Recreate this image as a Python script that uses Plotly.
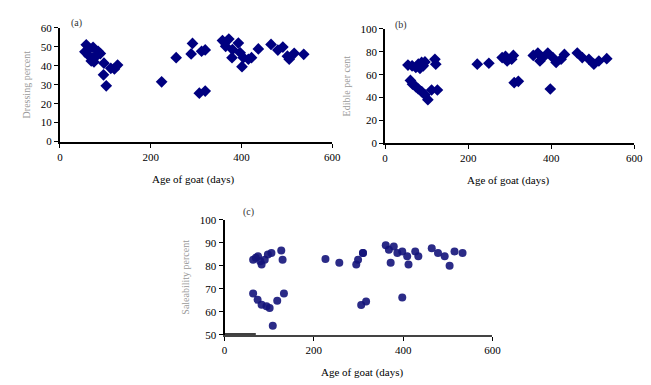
import plotly.graph_objects as go

# Panel (a): dressing percent vs age
a_age = [58, 55, 65, 73, 84, 89, 63, 73, 80, 75, 69, 97, 96, 102, 112, 120, 127,
         224, 256, 292, 289, 312, 320, 307, 320, 358, 372, 365, 380, 393, 379, 397,
         404, 415, 401, 422, 437, 465, 480, 491, 501, 516, 505, 537]
a_val = [51, 47.3, 48.8, 49.7, 47.6, 46.4, 45.4, 44.2, 45, 42, 42.5, 41.3, 35.2, 29.4,
         38.6, 38.3, 40.3, 31.5, 44.2, 51.7, 46.2, 47.6, 48.3, 25.5, 26.6, 53.2, 54,
         50.2, 48.5, 51.9, 44.2, 46.8, 44.2, 43.4, 39.5, 44.2, 48.8, 51.2, 48.2, 49.8,
         45, 46.5, 43.4, 46]

# Panel (b)
b_age = [55, 65, 74, 80, 88, 96, 84, 92, 120, 122, 61, 66, 74, 80, 88, 96, 103, 112,
         126, 222, 250, 282, 290, 294, 309, 305, 311, 321, 357, 368, 373, 380, 392,
         404, 412, 424, 432, 398, 463, 475, 491, 503, 515, 534]
b_val = [68.4, 67.8, 66.4, 69.2, 70.7, 71.2, 65.6, 67.8, 73.5, 69.2, 55, 51.7, 49.5,
         47.5, 45.2, 42.4, 38.1, 46.6, 46.6, 69.2, 70, 75, 76, 72, 76.9, 73.5, 53,
         54.2, 76.9, 79, 72, 75, 79, 75, 70.7, 73.5, 77.7, 47.5, 79, 75, 73.5, 69.2,
         72, 74]

# Panel (c)
c_age = [64, 75, 83, 90, 97, 105, 70, 80, 127, 130, 64, 74, 83, 94, 101, 118, 133,
         108, 226, 257, 295, 310, 299, 310, 317, 306, 361, 368, 379, 387, 372, 398,
         409, 412, 427, 434, 398, 464, 478, 493, 504, 515, 533]
c_val = [82.7, 84.2, 80.6, 82.7, 84.9, 85.6, 83.5, 82, 86.7, 82.7, 68, 65.2, 63.1,
         62.4, 61.6, 64.8, 68, 53.9, 83, 81.3, 80.6, 85.6, 82.7, 85.6, 64.5, 63, 89,
         87, 88.4, 85.6, 81.3, 86.3, 84.2, 80.6, 86.3, 84.2, 66.2, 87.7, 85.6, 84.2,
         80, 86.3, 85.6]

x_ticks = [0, 200, 400, 600]
a_ticks = [0, 10, 20, 30, 40, 50, 60]
b_ticks = [0, 20, 40, 60, 80, 100]
c_ticks = [50, 60, 70, 80, 90, 100]

x_title = "Age of goat (days)"
a_title = "Dressing percent"
b_title = "Edible per cent"
c_title = "Saleability percent"

FONT = "Liberation Serif"
NAVY = "#000080"

fig = go.Figure()
fig.add_trace(go.Scatter(x=a_age, y=a_val, mode="markers", xaxis="x", yaxis="y",
                         marker=dict(symbol="diamond", size=9, color=NAVY)))
fig.add_trace(go.Scatter(x=b_age, y=b_val, mode="markers", xaxis="x2", yaxis="y2",
                         marker=dict(symbol="diamond", size=9, color=NAVY)))
fig.add_trace(go.Scatter(x=c_age, y=c_val, mode="markers", xaxis="x3", yaxis="y3",
                         marker=dict(symbol="circle", size=8, color="#14147a",
                                     opacity=0.9)))

def xax(domain, anchor, linecolor="black"):
    return dict(domain=domain, anchor=anchor, range=[0, 600], tickvals=x_ticks,
                showgrid=False, zeroline=False, showline=True, linecolor=linecolor,
                linewidth=2, ticks="outside", ticklen=4, tickcolor="black",
                tickfont=dict(family=FONT, size=11, color="black"))

def yax(domain, anchor, rng, tv, title):
    return dict(domain=domain, anchor=anchor, range=rng, tickvals=tv,
                showgrid=False, zeroline=False, showline=True, linecolor="black",
                linewidth=2, ticks="outside", ticklen=4, tickcolor="black",
                tickfont=dict(family=FONT, size=11, color="black"),
                title=dict(text=title, font=dict(family=FONT, size=10, color="#9a9a9a"),
                           standoff=8))

fig.update_layout(
    width=651, height=385, margin=dict(l=0, r=0, t=0, b=0),
    paper_bgcolor="white", plot_bgcolor="white", showlegend=False,
    xaxis=xax([0.0891, 0.5154], "y"),
    yaxis=yax([0.6364, 0.9418], "x", [0, 60], a_ticks, a_title),
    xaxis2=xax([0.598, 0.9877], "y2"),
    yaxis2=yax([0.632, 0.9384], "x2", [0, 100], b_ticks, b_title),
    xaxis3=xax([0.3467, 0.766], "y3", linecolor="#444444"),
    yaxis3=yax([0.1187, 0.4265], "x3", [50, 100], c_ticks, c_title),
)

fig.add_shape(type="line", xref="x3", yref="y3", x0=0, x1=70, y0=50, y1=50,
              line=dict(color="black", width=3))

# x-axis titles
for x, y in [(194 / 651, 1 - 179 / 385), (515 / 651, 1 - 180 / 385), (366 / 651, 1 - 378 / 385)]:
    fig.add_annotation(text=x_title, xref="paper", yref="paper", x=x, y=y,
                       xanchor="center", yanchor="middle", showarrow=False,
                       font=dict(family=FONT, size=11, color="black"))

# panel labels
for txt, x, y in [("(a)", 75 / 651, 1 - 18 / 385), ("(b)", 405 / 651, 1 - 20 / 385),
                  ("(c)", 250 / 651, 1 - 213 / 385)]:
    fig.add_annotation(text=txt, xref="paper", yref="paper", x=x, y=y,
                       xanchor="center", yanchor="middle", showarrow=False,
                       font=dict(family=FONT, size=10, color="#333333"))

fig.write_html("out.html")
